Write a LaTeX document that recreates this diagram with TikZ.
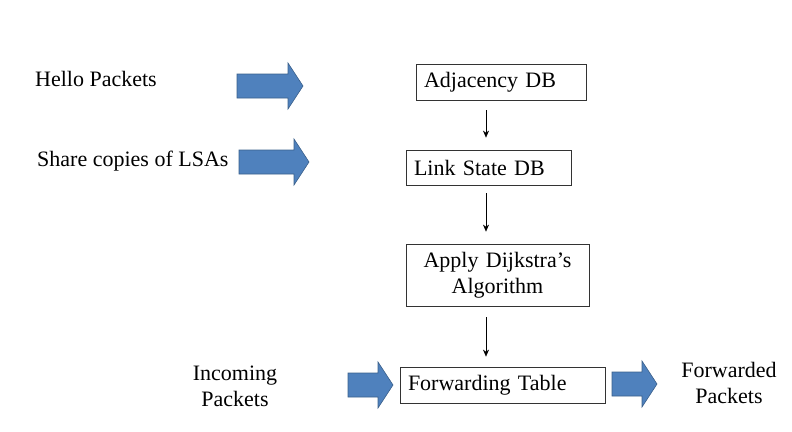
\documentclass[tikz,border=0pt]{standalone}
\usepackage{fontspec}
\setmainfont{Liberation Serif}
\usetikzlibrary{arrows.meta}

\tikzset{
  dbbox/.style = {draw=black!80, line width=0.8pt, inner ysep=0pt, inner xsep=8pt,
                  align=left, font=\fontsize{22}{26}\selectfont},
  label/.style = {inner sep=0pt, align=center, font=\fontsize{22}{26}\selectfont},
  flow/.style  = {-{Stealth[length=7pt,width=6pt]}, line width=0.5pt},
  blockarrow/.style = {fill=arrowblue, draw=arrowedge, line width=0.6pt},
}
\definecolor{arrowblue}{HTML}{4F81BD}
\definecolor{arrowedge}{HTML}{3A5F8A}

% block arrow: tail x, centre y, tip x
\newcommand{\blockarrow}[3]{%
  \draw[blockarrow] (#1,#2-12) -- (#3-15,#2-12) -- (#3-15,#2-23) -- (#3,#2)
    -- (#3-15,#2+23) -- (#3-15,#2+12) -- (#1,#2+12) -- cycle;}

\begin{document}
\begin{tikzpicture}[x=1pt, y=-1pt]
  \useasboundingbox (0,0) rectangle (792,431);

  % left labels
  \node[label, anchor=west] (hello) at (35,79) {Hello Packets};
  \node[label, anchor=west] (share) at (37,161) {Share copies of LSAs};
  \node[label] (incoming) at (235,386) {Incoming\\Packets};
  \node[label] (forwarded) at (729,383) {Forwarded\\Packets};

  % databases and tables
  \node[dbbox, text width=154pt, minimum height=36pt] (adj) at (501,82) {Adjacency DB};
  \node[dbbox, text width=149pt, minimum height=35pt] (lsdb) at (488.5,167.5) {Link State DB};
  \node[dbbox, align=center, text width=167pt, minimum height=62pt] (dijk) at (497.5,275) {Apply Dijkstra's\\Algorithm};
  \node[dbbox, text width=189pt, minimum height=36pt] (fwd) at (502.5,385) {Forwarding Table};

  \coordinate (col) at (486,0);
  \draw[flow, shorten <=10pt, shorten >=12pt] (adj.south -| col) -- (lsdb.north -| col);
  \draw[flow, shorten <=8pt, shorten >=12pt] (lsdb.south -| col) -- (dijk.north -| col);
  \draw[flow, shorten <=11pt, shorten >=10pt] (dijk.south -| col) -- (fwd.north -| col);

  % blue block arrows
  \blockarrow{237}{86}{303}
  \blockarrow{239}{162}{309}
  \blockarrow{348}{385}{393}
  \blockarrow{612}{384}{657}
\end{tikzpicture}
\end{document}
